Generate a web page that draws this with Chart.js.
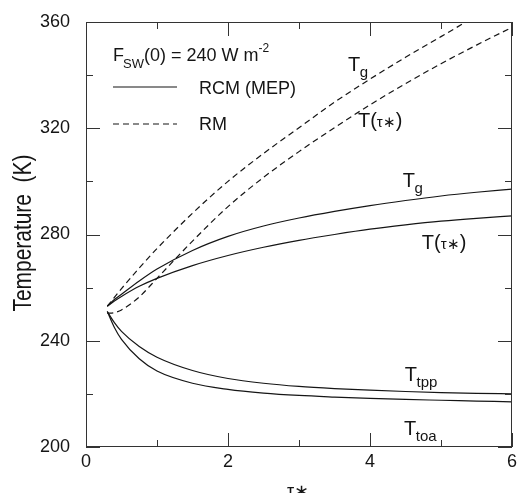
<!DOCTYPE html>
<html>
<head>
<meta charset="utf-8">
<title>Temperature vs optical depth</title>
<script src="https://cdn.jsdelivr.net/npm/chart.js@4.4.1/dist/chart.umd.min.js"></script>
<style>
  html, body { margin: 0; padding: 0; background: #fff; }
  #wrap { width: 517px; height: 493px; position: relative; }
</style>
</head>
<body>
<div id="wrap"><canvas id="tempChart"></canvas></div>
<script>
// ---- data ----
const tauGrid = [0.3, 0.4, 0.5, 0.75, 1, 1.5, 2, 2.5, 3, 3.5, 4, 4.5, 5, 5.5, 6];
const rcmTg   = [253, 255.5, 257.5, 262.5, 267, 274, 279.3, 283.2, 286.2, 288.7, 290.9, 292.8, 294.5, 295.9, 297.1];
const rcmTtau = [253, 255, 256.7, 260.5, 263.5, 268.3, 272.1, 275.2, 277.8, 280, 282, 283.6, 285, 286.1, 287];
const rcmTtpp = [251, 246.8, 243.5, 237.8, 233.8, 228.8, 225.8, 224, 222.8, 222, 221.4, 220.9, 220.5, 220.2, 220];
const rcmTtoa = [251, 245, 240.5, 233.2, 228.6, 224, 221.7, 220.3, 219.4, 218.8, 218.3, 217.9, 217.6, 217.3, 217];
const tauRmTg = [0.3, 0.5, 0.75, 1, 1.5, 2, 2.5, 3, 3.5, 4, 4.5, 5, 5.35];
const rmTg    = [253, 259.6, 267.4, 274.7, 288, 300, 310.5, 320.2, 329.8, 338.5, 346.7, 354.5, 360];
const rmTtau  = [250.3, 250.6, 251.6, 256.5, 263.5, 277.5, 290.5, 301.5, 311.2, 320.2, 328.8, 336.8, 344.3, 351.3, 358];

const xTicks = [0, 2, 4, 6];
const xMinor = [1, 3, 5];
const yTicks = [200, 240, 280, 320, 360];
const yMinor = [220, 260, 300, 340];

const FONT = '"Liberation Sans", Arial, Helvetica, sans-serif';
const INK = '#151515';

const pts = (xs, ys) => ys.map((y, i) => ({ x: xs[i], y }));

function series(label, xs, ys, dashed) {
  return {
    label, data: pts(xs, ys), showLine: true, pointRadius: 0,
    borderColor: INK, borderWidth: 1.2, borderDash: dashed ? [6, 4] : [],
    cubicInterpolationMode: 'monotone', fill: false
  };
}

// curve labels: [tau, T, main, sub, kind]
const curveLabels = [
  [3.69, 341.4, 'T', 'g', 'sub'],
  [3.83, 320.3, 'T', '', 'tau'],
  [4.46, 297.7, 'T', 'g', 'sub'],
  [4.73, 274.4, 'T', '', 'tau'],
  [4.49, 224.7, 'T', 'tpp', 'sub'],
  [4.48, 204.7, 'T', 'toa', 'sub']
];

function drawLabel(ctx, x, y, main, sub, kind) {
  ctx.textBaseline = 'alphabetic';
  ctx.textAlign = 'left';
  ctx.font = '20px ' + FONT;
  ctx.fillText(main, x, y);
  let cx = x + ctx.measureText(main).width;
  if (kind === 'sub') {
    ctx.font = '15px ' + FONT;
    ctx.fillText(sub, cx - 0.5, y + 6);
  } else {
    ctx.fillText('(', cx, y);
    cx += ctx.measureText('(').width;
    ctx.font = '15px ' + FONT;
    ctx.fillText('τ∗', cx, y);
    cx += ctx.measureText('τ∗').width;
    ctx.font = '20px ' + FONT;
    ctx.fillText(')', cx, y);
  }
}

const framePlugin = {
  id: 'frame',
  afterDraw(chart) {
    const { ctx, chartArea: a, scales: { x, y } } = chart;
    ctx.save();
    ctx.strokeStyle = '#333';
    ctx.lineWidth = 1;
    ctx.strokeRect(a.left + 0.5, a.top + 0.5, a.right - a.left - 1, a.bottom - a.top - 1);
    ctx.beginPath();
    const xt = (v, len) => {
      const px = Math.round(x.getPixelForValue(v)) + 0.5;
      ctx.moveTo(px, a.bottom); ctx.lineTo(px, a.bottom - len);
      ctx.moveTo(px, a.top); ctx.lineTo(px, a.top + len);
    };
    const yt = (v, len) => {
      const py = Math.round(y.getPixelForValue(v)) + 0.5;
      ctx.moveTo(a.left, py); ctx.lineTo(a.left + len, py);
      ctx.moveTo(a.right, py); ctx.lineTo(a.right - len, py);
    };
    xTicks.forEach(v => xt(v, 14)); xMinor.forEach(v => xt(v, 7));
    yTicks.forEach(v => yt(v, 14)); yMinor.forEach(v => yt(v, 7));
    ctx.stroke();

    ctx.fillStyle = INK;
    curveLabels.forEach(l => drawLabel(ctx, x.getPixelForValue(l[0]), y.getPixelForValue(l[1]), l[2], l[3], l[4]));

    // legend block
    ctx.font = '18px ' + FONT;
    ctx.textBaseline = 'alphabetic';
    ctx.fillText('F', 113, 61);
    let cx = 113 + ctx.measureText('F').width;
    ctx.font = '13px ' + FONT;
    ctx.fillText('SW', cx - 1, 68);
    cx += ctx.measureText('SW').width - 1;
    ctx.font = '18px ' + FONT;
    ctx.fillText('(0) = 240 W m', cx, 61);
    cx += ctx.measureText('(0) = 240 W m').width;
    ctx.font = '12px ' + FONT;
    ctx.fillText('-2', cx, 52);

    ctx.lineWidth = 1.2;
    ctx.strokeStyle = INK;
    ctx.beginPath(); ctx.moveTo(113, 87); ctx.lineTo(177, 87); ctx.stroke();
    ctx.setLineDash([6, 4]);
    ctx.beginPath(); ctx.moveTo(113, 124); ctx.lineTo(177, 124); ctx.stroke();
    ctx.setLineDash([]);
    ctx.font = '18px ' + FONT;
    ctx.fillText('RCM (MEP)', 199, 94);
    ctx.fillText('RM', 199, 130);

    // axis titles
    ctx.textAlign = 'center';
    ctx.font = '18px ' + FONT;
    ctx.fillText('τ∗', 298, 497);
    ctx.save();
    ctx.translate(31, 233);
    ctx.rotate(-Math.PI / 2);
    ctx.font = '26px ' + FONT;
    const t = 'Temperature  (K)';
    const s = 157 / ctx.measureText(t).width;
    ctx.scale(s, 1);
    ctx.fillText(t, 0, 0);
    ctx.restore();
    ctx.restore();
  }
};

new Chart(document.getElementById('tempChart'), {
  type: 'scatter',
  data: {
    datasets: [
      series('RCM Tg', tauGrid, rcmTg, false),
      series('RCM T(tau*)', tauGrid, rcmTtau, false),
      series('RCM Ttpp', tauGrid, rcmTtpp, false),
      series('RCM Ttoa', tauGrid, rcmTtoa, false),
      series('RM Tg', tauRmTg, rmTg, true),
      series('RM T(tau*)', tauGrid, rmTtau, true)
    ]
  },
  options: {
    responsive: true, maintainAspectRatio: false, animation: false,
    layout: { padding: { top: 22, right: 5, left: 0, bottom: 0 } },
    plugins: { legend: { display: false }, tooltip: { enabled: false } },
    scales: {
      x: {
        type: 'linear', min: 0, max: 6,
        afterBuildTicks: s => { s.ticks = xTicks.map(v => ({ value: v })); },
        afterFit: s => { s.height = 46; },
        grid: { display: false }, border: { display: false },
        ticks: { color: INK, font: { size: 18, family: FONT }, padding: -4, maxRotation: 0 }
      },
      y: {
        type: 'linear', min: 200, max: 360,
        afterBuildTicks: s => { s.ticks = yTicks.map(v => ({ value: v })); },
        afterFit: s => { s.width = 86; },
        grid: { display: false }, border: { display: false },
        ticks: { color: INK, font: { size: 18, family: FONT }, padding: 8 }
      }
    }
  },
  plugins: [framePlugin]
});
</script>
</body>
</html>
